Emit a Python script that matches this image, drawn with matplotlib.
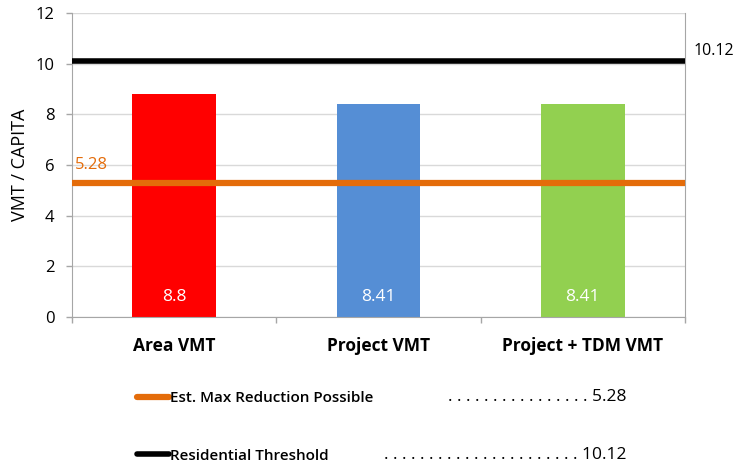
import matplotlib
matplotlib.use("Agg")
import matplotlib.pyplot as plt
from matplotlib.lines import Line2D

categories = ["Area VMT", "Project VMT", "Project + TDM VMT"]
values = [8.8, 8.41, 8.41]
bar_colors = ["#FF0000", "#558ED5", "#92D050"]
max_reduction = 5.28
threshold = 10.12
yticks = [0, 2, 4, 6, 8, 10, 12]
legend_labels = ["Est. Max Reduction Possible", "Residential Threshold"]

plt.rcParams['font.family'] = ['Open Sans', 'DejaVu Sans']

W, H = 737, 468
fig = plt.figure(figsize=(W / 100, H / 100), dpi=100)
ax = fig.add_axes([72 / W, 1 - 317 / H, (685 - 72) / W, (317 - 13) / H])

x = list(range(len(categories)))
bars = ax.bar(x, values, width=0.41, color=bar_colors, zorder=2)
for xi, v in zip(x, values):
    ax.annotate(f"{v:g}", xy=(xi, 0), xytext=(0, 20), textcoords="offset pixels",
                ha="center", va="center", color="white", fontsize=12.5, zorder=4)

l1 = ax.axhline(max_reduction, color="#E46C0A", lw=4.5, zorder=3, solid_capstyle="butt")
l2 = ax.axhline(threshold, color="black", lw=4.0, zorder=3, solid_capstyle="butt")

ax.annotate(f"{max_reduction:g}", xy=(-0.5, max_reduction), xytext=(3, 18),
            textcoords="offset pixels", ha="left", va="center", color="#E46C0A", fontsize=12)
ax.annotate(f"{threshold:g}", xy=(2.5, threshold), xytext=(9, 10),
            textcoords="offset pixels", ha="left", va="center", color="black", fontsize=11.5,
            annotation_clip=False)

ax.set_xlim(-0.5, 2.5)
ax.set_ylim(0, 12)
ax.set_yticks(yticks)
ax.set_yticklabels([str(t) for t in yticks], fontsize=12)
ax.set_xticks(x)
ax.set_xticklabels(categories, fontsize=12.5, fontweight="bold")
ax.set_xticks([-0.5, 0.5, 1.5, 2.5], minor=True)
ax.tick_params(axis="x", which="major", length=0, pad=14.5)
ax.tick_params(axis="x", which="minor", length=4.5, color="#A6A6A6", width=1)
ax.tick_params(axis="y", length=4.5, color="#A6A6A6", width=1, pad=8)
ax.set_ylabel("VMT / CAPITA", fontsize=13, labelpad=5)
ax.yaxis.grid(True, color="#D9D9D9", lw=1, zorder=0)
ax.set_axisbelow(True)
for s in ["left", "bottom", "right"]:
    ax.spines[s].set_color("#A6A6A6")
ax.spines["top"].set_visible(False)

# legend below
handles = [Line2D([0], [0], color="#E46C0A", lw=4.5, solid_capstyle="round"),
           Line2D([0], [0], color="black", lw=4.0, solid_capstyle="round")]
leg = fig.legend(handles, legend_labels, loc="upper left",
                 bbox_to_anchor=(137 / W, 1 - 391 / H), frameon=False,
                 borderpad=0, borderaxespad=0,
                 handlelength=2.1, handletextpad=0.05, labelspacing=2.85,
                 prop={"size": 11, "weight": "semibold"})

fig.text(626 / W, 1 - 397 / H, ". " * 16 + f"{max_reduction:g}",
         ha="right", va="center", fontsize=12.5)
fig.text(626 / W, 1 - 455 / H, ". " * 22 + f"{threshold:g}",
         ha="right", va="center", fontsize=12.5)

fig.savefig("out.png", dpi=100)
